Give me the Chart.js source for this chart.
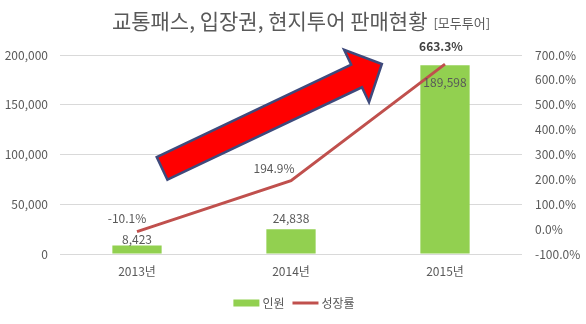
<!DOCTYPE html>
<html>
<head>
<meta charset="utf-8">
<script src="https://cdn.jsdelivr.net/npm/chart.js@4"></script>
<style>
  html, body { margin: 0; padding: 0; background: #fff; }
  #wrap { width: 586px; height: 324px; }
</style>
</head>
<body>
<div id="wrap"><canvas id="salesChart" width="586" height="324"></canvas></div>
<script>
const YEARS = ["2013년", "2014년", "2015년"];
const PEOPLE = [8423, 24838, 189598];
const GROWTH = [-10.1, 194.9, 663.3];
const TITLE = "교통패스, 입장권, 현지투어 판매현황";
const SUBTITLE = "[모두투어]";

const FONT = "'Noto Sans CJK KR', 'Noto Sans', sans-serif";
const GREY = "#595959";
const GREEN = "#92D050";
const RED = "#C0504D";

// title, data labels, arrow and legend drawn by hand
const extras = {
	id: "extras",
	afterDatasetsDraw(chart) {
		const ctx = chart.ctx;
		const x = chart.scales.x, y = chart.scales.y;

		// arrow
		const t = { x: x.getPixelForValue(0.163), y: y.getPixelForValue(86000) };
		const h = { x: x.getPixelForValue(1.59), y: y.getPixelForValue(191000) };
		const dx = h.x - t.x, dy = h.y - t.y;
		const len = Math.hypot(dx, dy);
		const ux = dx / len, uy = dy / len, nx = -uy, ny = ux;
		const sw = 12.5, hw = 29, hl = 28;
		const bx = h.x - ux * hl, by = h.y - uy * hl;
		ctx.save();
		ctx.beginPath();
		ctx.moveTo(t.x + nx * sw, t.y + ny * sw);
		ctx.lineTo(bx + nx * sw, by + ny * sw);
		ctx.lineTo(bx + nx * hw, by + ny * hw);
		ctx.lineTo(h.x, h.y);
		ctx.lineTo(bx - nx * hw, by - ny * hw);
		ctx.lineTo(bx - nx * sw, by - ny * sw);
		ctx.lineTo(t.x - nx * sw, t.y - ny * sw);
		ctx.closePath();
		ctx.fillStyle = "#FF0000";
		ctx.fill();
		ctx.lineWidth = 2.5;
		ctx.strokeStyle = "#3E4A7C";
		ctx.lineJoin = "miter";
		ctx.stroke();
		ctx.restore();

		ctx.save();
		ctx.textAlign = "center";
		ctx.textBaseline = "middle";
		ctx.fillStyle = GREY;

		// bar labels
		const barMeta = chart.getDatasetMeta(0);
		const barOff = [-6, -11, 17];
		ctx.font = "12px " + FONT;
		barMeta.data.forEach((bar, i) => {
			ctx.fillText(PEOPLE[i].toLocaleString("en-US"), bar.x, bar.y + barOff[i]);
		});

		// line labels
		const lineMeta = chart.getDatasetMeta(1);
		const lineOff = [[-10, -13], [-17, -12], [-4, -18]];
		lineMeta.data.forEach((pt, i) => {
			ctx.font = (i === 2 ? "bold " : "") + "12px " + FONT;
			ctx.fillStyle = i === 2 ? "#404040" : GREY;
			ctx.fillText(GROWTH[i].toFixed(1) + "%", pt.x + lineOff[i][0], pt.y + lineOff[i][1]);
		});

		// title
		ctx.textBaseline = "alphabetic";
		ctx.textAlign = "left";
		ctx.font = "21px " + FONT;
		const tw = ctx.measureText(TITLE).width;
		ctx.font = "13px " + FONT;
		const sw2 = ctx.measureText(SUBTITLE).width;
		let tx = 301 - (tw + 6 + sw2) / 2;
		ctx.fillStyle = GREY;
		ctx.font = "21px " + FONT;
		ctx.fillText(TITLE, tx, 29);
		ctx.font = "13px " + FONT;
		ctx.fillText(SUBTITLE, tx + tw + 6, 28);

		// legend
		ctx.font = "12px " + FONT;
		ctx.textBaseline = "middle";
		const ly = 303;
		const l1 = chart.data.datasets[0].label, l2 = chart.data.datasets[1].label;
		const w1 = ctx.measureText(l1).width, w2 = ctx.measureText(l2).width;
		const box = 26, gap = 3, sep = 8;
		const total = box + gap + w1 + sep + box + gap + w2;
		let lx = 294 - total / 2;
		ctx.fillStyle = GREEN;
		ctx.fillRect(lx, ly - 3.5, box, 7);
		lx += box + gap;
		ctx.fillStyle = GREY;
		ctx.fillText(l1, lx, ly);
		lx += w1 + sep;
		ctx.strokeStyle = RED;
		ctx.lineWidth = 3;
		ctx.beginPath();
		ctx.moveTo(lx, ly);
		ctx.lineTo(lx + box, ly);
		ctx.stroke();
		lx += box + gap;
		ctx.fillText(l2, lx, ly);
		ctx.restore();
	}
};

const salesChart = new Chart(document.getElementById("salesChart"), {
	data: {
		labels: YEARS,
		datasets: [
			{
				type: "bar",
				label: "인원",
				data: PEOPLE,
				yAxisID: "y",
				backgroundColor: GREEN,
				barPercentage: 0.32,
				categoryPercentage: 1,
				order: 1
			},
			{
				type: "line",
				label: "성장률",
				data: GROWTH,
				yAxisID: "y2",
				borderColor: RED,
				backgroundColor: RED,
				borderWidth: 3,
				pointRadius: 0,
				tension: 0,
				order: 0
			}
		]
	},
	options: {
		responsive: false,
		animation: false,
		events: [],
		layout: { padding: { top: 55, bottom: 40, left: 0, right: 0 } },
		plugins: {
			legend: { display: false },
			title: { display: false },
			tooltip: { enabled: false }
		},
		scales: {
			x: {
				grid: { display: false, drawTicks: false },
				border: { display: false },
				ticks: { color: GREY, font: { family: FONT, size: 12 }, padding: 10 },
				afterFit(s) { s.height = 30; }
			},
			y: {
				position: "left",
				min: 0,
				max: 200000,
				ticks: {
					stepSize: 50000,
					color: GREY,
					font: { family: FONT, size: 12 },
					padding: 12,
					callback: v => v.toLocaleString("en-US")
				},
				grid: { color: "#D9D9D9", drawTicks: false },
				border: { display: false },
				afterFit(s) { s.width = 60; }
			},
			y2: {
				position: "right",
				min: -100,
				max: 700,
				ticks: {
					stepSize: 100,
					color: GREY,
					font: { family: FONT, size: 12 },
					padding: 13,
					callback: v => v.toFixed(1) + "%"
				},
				grid: { display: false, drawTicks: false },
				border: { display: false },
				afterFit(s) { s.width = 64; }
			}
		}
	},
	plugins: [extras]
});
</script>
</body>
</html>
